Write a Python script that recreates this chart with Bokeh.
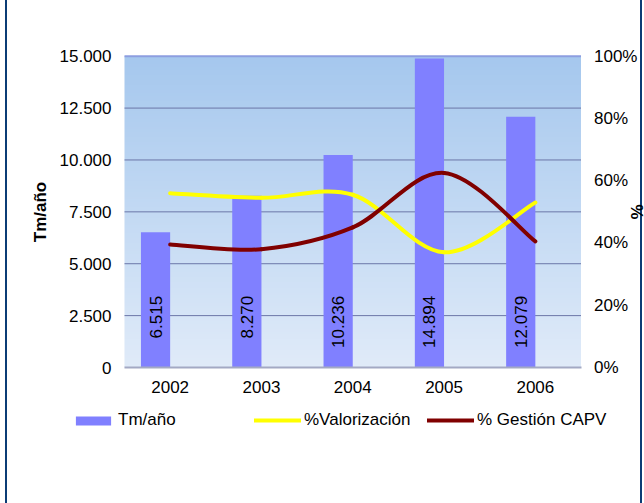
import numpy as np
from bokeh.plotting import figure
from bokeh.models import (Range1d, LinearAxis, FixedTicker, Legend, LegendItem,
                          ColumnDataSource, Label)
from bokeh.embed import file_html
from bokeh.resources import INLINE
from bokeh.core.properties import value

# ---------------- data ----------------
years = ["2002", "2003", "2004", "2005", "2006"]
tm = [6515, 8270, 10236, 14894, 12079]
tm_labels = ["6.515", "8.270", "10.236", "14.894", "12.079"]
valorizacion = [0.56, 0.545, 0.555, 0.37, 0.53]
gestion = [0.395, 0.38, 0.45, 0.625, 0.405]
y_ticks = [0, 2500, 5000, 7500, 10000, 12500, 15000]
y_tick_labels = ["0", "2.500", "5.000", "7.500", "10.000", "12.500", "15.000"]
pct_ticks = [0, 0.2, 0.4, 0.6, 0.8, 1.0]
pct_tick_labels = ["0%", "20%", "40%", "60%", "80%", "100%"]

FONT = "Liberation Sans"
FS = "17px"
BORDER = "#0b3c75"
W, H = 644, 503

# plot-area placement inside the canvas (pixels)
PL, PR, PT, PB = 124.0, 580.5, 55.7, 367.0
n = len(years)
Y_MAX = 15000
ux = (PR - PL) / n                 # px per category
uy = Y_MAX / (PB - PT)             # value per px
up = 1.0 / (PB - PT)               # pct per px

x_pos = [i + 0.5 for i in range(n)]
bar_w = 0.32
bar_x = [x - bar_w / 2 for x in x_pos]

p = figure(width=W, height=H, output_backend="svg", toolbar_location=None,
           x_range=Range1d(-PL / ux, n + (W - PR) / ux),
           y_range=Range1d(-(H - PB) * uy, Y_MAX + PT * uy),
           min_border=0, min_border_left=0, min_border_right=0,
           min_border_top=0, min_border_bottom=0)
p.extra_y_ranges = {"pct": Range1d(-(H - PB) * up, 1 + PT * up)}
p.styles = {"background": (f"linear-gradient(to right, white 0px, white 5px, {BORDER} 5px, "
                           f"{BORDER} 7px, white 7px, white 640px, {BORDER} 640px, "
                           f"{BORDER} 642px, white 642px)")}
p.outline_line_color = None
p.background_fill_color = None
p.border_fill_color = None
p.xgrid.visible = False
p.ygrid.visible = False

# background gradient of the plot area
N = 120
top_c = np.array([166, 200, 238])
bot_c = np.array([224, 235, 249])
t = np.linspace(0, 1, N)[:, None]
cols = (bot_c * (1 - t) + top_c * t).astype(np.uint8)
img = np.empty((N, 1), dtype=np.uint32)
view = img.view(dtype=np.uint8).reshape((N, 1, 4))
view[:, 0, 0] = cols[:, 0]
view[:, 0, 1] = cols[:, 1]
view[:, 0, 2] = cols[:, 2]
view[:, 0, 3] = 255
p.image_rgba(image=[img], x=0, y=0, dw=n, dh=Y_MAX)

# horizontal grid lines (limited to the plot area)
inner = y_ticks[1:-1]
p.segment(x0=[0] * len(inner), x1=[n] * len(inner), y0=inner, y1=inner,
          line_color="#6b76a8", line_width=1)
p.segment(x0=[0], x1=[n], y0=[Y_MAX], y1=[Y_MAX], line_color="#8d9ee0", line_width=2)

# bars
src = ColumnDataSource(dict(x=bar_x, top=tm, lab=tm_labels))
bars = p.vbar(x="x", top="top", width=bar_w, bottom=0, source=src,
              fill_color="#8080ff", line_color=None)
p.text(x="x", y=3450, text="lab", source=src, angle=np.pi / 2,
       text_align="right", text_baseline="middle",
       text_font=value(FONT), text_font_size=FS, text_color="black")

# smooth lines (Catmull-Rom style Bezier through the data points)
def bezier_source(xs, ys):
    m = len(xs)
    d = dict(x0=[], y0=[], x1=[], y1=[], cx0=[], cy0=[], cx1=[], cy1=[])
    for i in range(m - 1):
        i0 = max(i - 1, 0)
        i3 = min(i + 2, m - 1)
        d["x0"].append(xs[i]); d["y0"].append(ys[i])
        d["x1"].append(xs[i + 1]); d["y1"].append(ys[i + 1])
        d["cx0"].append(xs[i] + (xs[i + 1] - xs[i0]) / 6)
        d["cy0"].append(ys[i] + (ys[i + 1] - ys[i0]) / 6)
        d["cx1"].append(xs[i + 1] - (xs[i3] - xs[i]) / 6)
        d["cy1"].append(ys[i + 1] - (ys[i3] - ys[i]) / 6)
    return ColumnDataSource(d)

VAL_C = "#ffff00"
GES_C = "#800000"
r_val = p.bezier(x0="x0", y0="y0", x1="x1", y1="y1", cx0="cx0", cy0="cy0",
                 cx1="cx1", cy1="cy1", source=bezier_source(x_pos, valorizacion),
                 line_color=VAL_C, line_width=4, line_cap="round", y_range_name="pct")
r_ges = p.bezier(x0="x0", y0="y0", x1="x1", y1="y1", cx0="cx0", cy0="cy0",
                 cx1="cx1", cy1="cy1", source=bezier_source(x_pos, gestion),
                 line_color=GES_C, line_width=4, line_cap="round", y_range_name="pct")

# axes (fixed at the plot-area edges)
def style_axis(ax):
    ax.major_tick_in = 0
    ax.major_tick_out = 0
    ax.minor_tick_line_color = None
    ax.major_label_standoff = 13
    ax.major_label_text_font = FONT
    ax.major_label_text_font_size = FS
    ax.major_label_text_color = "black"

xa = p.xaxis[0]
style_axis(xa)
xa.fixed_location = 0
xa.bounds = (0, n)
xa.ticker = FixedTicker(ticks=x_pos)
xa.major_label_overrides = {x: y for x, y in zip(x_pos, years)}
xa.axis_line_color = "#a3a9c4"
xa.axis_line_width = 2

ya = p.yaxis[0]
style_axis(ya)
ya.fixed_location = 0
ya.bounds = (0, Y_MAX)
ya.ticker = FixedTicker(ticks=y_ticks)
ya.major_label_overrides = {k: v for k, v in zip(y_ticks, y_tick_labels)}
ya.axis_line_color = None
ya.axis_label = "Tm/año"
ya.axis_label_text_font = FONT
ya.axis_label_text_font_size = FS
ya.axis_label_text_font_style = "bold"
ya.axis_label_text_color = "black"
ya.axis_label_standoff = 7

ra = LinearAxis(y_range_name="pct")
style_axis(ra)
ra.fixed_location = n
ra.bounds = (0, 1)
ra.ticker = FixedTicker(ticks=pct_ticks)
ra.major_label_overrides = {k: v for k, v in zip(pct_ticks, pct_tick_labels)}
ra.axis_line_color = None
p.add_layout(ra, "right")

p.add_layout(Label(x=n, y=0.5, y_range_name="pct", x_offset=55, text="%",
                   angle=-np.pi / 2, text_align="center", text_baseline="middle",
                   text_font=FONT, text_font_size=FS, text_font_style="bold",
                   text_color="black"))

# legends (one per entry, placed like the original)
def make_legend(label, rend, x, gw, gh):
    leg = Legend(items=[LegendItem(label=label, renderers=[rend])],
                 location=(x, H - 420 - 10), orientation="horizontal",
                 glyph_width=gw, glyph_height=gh, label_height=20,
                 label_standoff=3, padding=0, margin=0, spacing=0,
                 border_line_color=None, background_fill_alpha=0,
                 label_text_font=FONT, label_text_font_size=FS,
                 label_text_color="black")
    p.add_layout(leg)

make_legend("Tm/año", bars, 71, 44, 11)
make_legend("%Valorización", r_val, 254, 47, 12)
make_legend("% Gestión CAPV", r_ges, 427, 47, 12)

open("out.html", "w").write(file_html(p, INLINE))
